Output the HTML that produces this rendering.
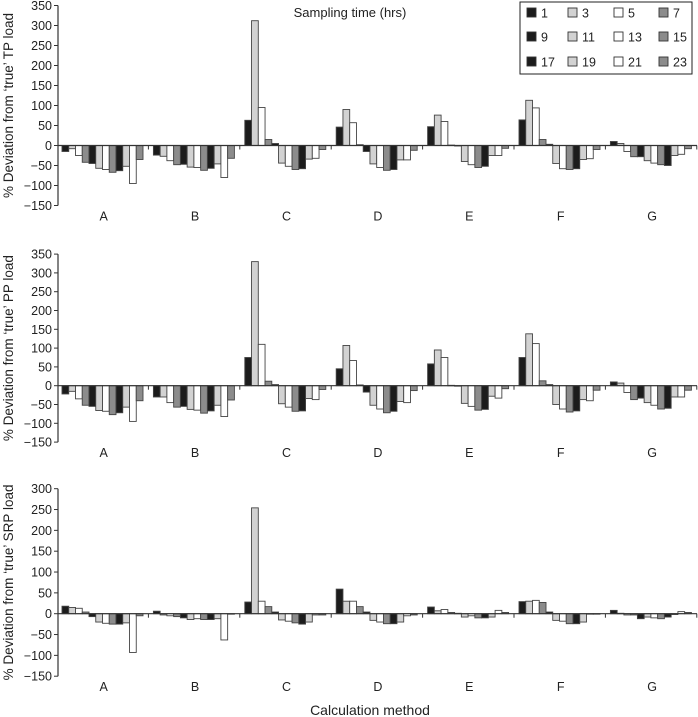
<!DOCTYPE html>
<html><head><meta charset="utf-8"><style>
body{margin:0;background:#fff;}
svg{display:block;font-family:"Liberation Sans",Arial,sans-serif;}
</style></head><body>
<svg id="chart" width="698" height="717" viewBox="0 0 698 717" xmlns="http://www.w3.org/2000/svg">
<text x="350" y="17" font-size="13" text-anchor="middle" fill="#222">Sampling time (hrs)</text>
<text x="370" y="715" font-size="14" text-anchor="middle" fill="#222">Calculation method</text>
</svg>
<script>
const categories = ["A","B","C","D","E","F","G"];
const seriesLabels = ["1","3","5","7","9","11","13","15","17","19","21","23"];
const tpValues = [
 [-15,-8,-25,-42,-45,-57,-60,-67,-63,-52,-95,-35],
 [-24,-27,-38,-48,-47,-54,-55,-62,-57,-46,-80,-32],
 [63,312,95,15,5,-44,-52,-60,-58,-34,-32,-10],
 [46,90,57,2,-15,-46,-55,-62,-60,-36,-36,-12],
 [47,76,60,1,0,-40,-48,-55,-52,-25,-25,-7],
 [64,113,94,15,3,-45,-58,-60,-58,-35,-33,-10],
 [10,5,-15,-28,-28,-38,-44,-48,-50,-25,-22,-8]
];
const ppValues = [
 [-22,-15,-35,-52,-55,-66,-68,-77,-72,-57,-95,-40],
 [-30,-30,-45,-57,-55,-63,-65,-73,-67,-52,-82,-38],
 [75,330,110,12,3,-48,-57,-68,-67,-34,-37,-10],
 [45,107,67,2,-17,-52,-62,-72,-68,-42,-45,-13],
 [58,95,75,1,0,-47,-55,-65,-63,-28,-33,-8],
 [75,138,112,13,3,-50,-62,-70,-67,-37,-40,-12],
 [10,7,-18,-37,-33,-45,-52,-62,-60,-30,-30,-12]
];
const srpValues = [
 [18,15,13,4,-7,-20,-23,-25,-25,-22,-93,-5],
 [6,-3,-5,-7,-10,-14,-12,-14,-14,-12,-63,-1],
 [28,254,30,17,4,-15,-18,-22,-25,-20,-3,-3],
 [59,30,30,17,4,-16,-20,-24,-24,-20,-5,-3],
 [16,7,10,3,1,-8,-5,-10,-10,-8,8,3],
 [29,30,32,27,4,-16,-18,-24,-24,-20,-1,-1],
 [8,1,-3,-3,-12,-8,-10,-12,-8,-2,5,3]
];
const tpTicks = [350,300,250,200,150,100,50,0,-50,-100,-150];
const ppTicks = [350,300,250,200,150,100,50,0,-50,-100,-150];
const srpTicks = [300,250,200,150,100,50,0,-50,-100,-150];

const fills = ["#1c1c1c","#d2d2d2","#ffffff","#8c8c8c"];
const NS = "http://www.w3.org/2000/svg";
const svg = document.getElementById("chart");
function mk(tag, attrs, parent){
  const e = document.createElementNS(NS, tag);
  for (const k in attrs) e.setAttribute(k, attrs[k]);
  (parent||svg).appendChild(e);
  return e;
}
const x0 = 58, groupW = 91.4;
function xBand(gi, si){ return x0 + gi*groupW + 4 + si*6.75; }

function drawPanel(name, values, ticks, zeroY, scale, title){
  const g = mk("g", {});
  
  
  const y = v => zeroY - v*scale;
  const top = y(ticks[0]), bot = y(ticks[ticks.length-1]);
  const ax = mk("line", {x1:x0,y1:top,x2:x0,y2:bot,stroke:"#333","stroke-width":1.2}, g);
  
  
  ticks.forEach(t => {
    const tk = mk("line", {x1:x0-4,y1:y(t),x2:x0,y2:y(t),stroke:"#333","stroke-width":1}, g);
    
    
    const lb = mk("text", {x:x0-6,y:y(t)+4.5,"font-size":12.5,"text-anchor":"end",fill:"#222"}, g);
    
    
    lb.textContent = t < 0 ? "\u2212" + (-t) : String(t);
  });
  const cy = (top+bot)/2;
  const yt = mk("text", {x:13,y:cy,"font-size":13.5,"text-anchor":"middle",fill:"#222",transform:`rotate(-90 13 ${cy})`}, g);
  
  
  yt.textContent = title;
  values.forEach((grp, gi) => {
    grp.forEach((v, si) => {
      const r = mk("rect", {x:xBand(gi,si), y:Math.min(y(v),zeroY), width:6.75, height:Math.max(Math.abs(v*scale),0.5),
        fill:fills[si%4], stroke:"#444","stroke-width":0.9}, g);
      
      
    });
    const cl = mk("text", {x:x0+gi*groupW+groupW/2, y:bot+15, "font-size":12.5, "text-anchor":"middle", fill:"#222"}, g);
    
    
    cl.textContent = categories[gi];
    const gt = mk("line", {x1:x0+(gi+1)*groupW-1, y1:zeroY, x2:x0+(gi+1)*groupW-1, y2:zeroY+4, stroke:"#333","stroke-width":1}, g);
    
    
  });
  const zl = mk("line", {x1:x0,y1:zeroY,x2:697,y2:zeroY,stroke:"#333","stroke-width":1.2}, g);
  
  
}
drawPanel("tp", tpValues, tpTicks, 145.5, 0.4, "% Deviation from \u2018true\u2019 TP load");
drawPanel("pp", ppValues, ppTicks, 385.7, 0.376, "% Deviation from \u2018true\u2019 PP load");
drawPanel("srp", srpValues, srpTicks, 613.7, 0.4167, "% Deviation from \u2018true\u2019 SRP load");

// legend
const lg = mk("g", {});


const lbox = mk("rect", {x:520,y:2,width:172,height:72,fill:"#fff",stroke:"#222","stroke-width":1}, lg);


const colX = [527,568,614,659];
const rowY = [13,37,62];
seriesLabels.forEach((s, i) => {
  const c = i%4, r = Math.floor(i/4);
  const sw = mk("rect", {x:colX[c], y:rowY[r]-5, width:9, height:9, fill:fills[c], stroke:"#333","stroke-width":0.9}, lg);
  
  
  const t = mk("text", {x:colX[c]+14, y:rowY[r]+4.5, "font-size":12.5, fill:"#222"}, lg);
  
  
  t.textContent = s;
});
</script>
</body></html>
